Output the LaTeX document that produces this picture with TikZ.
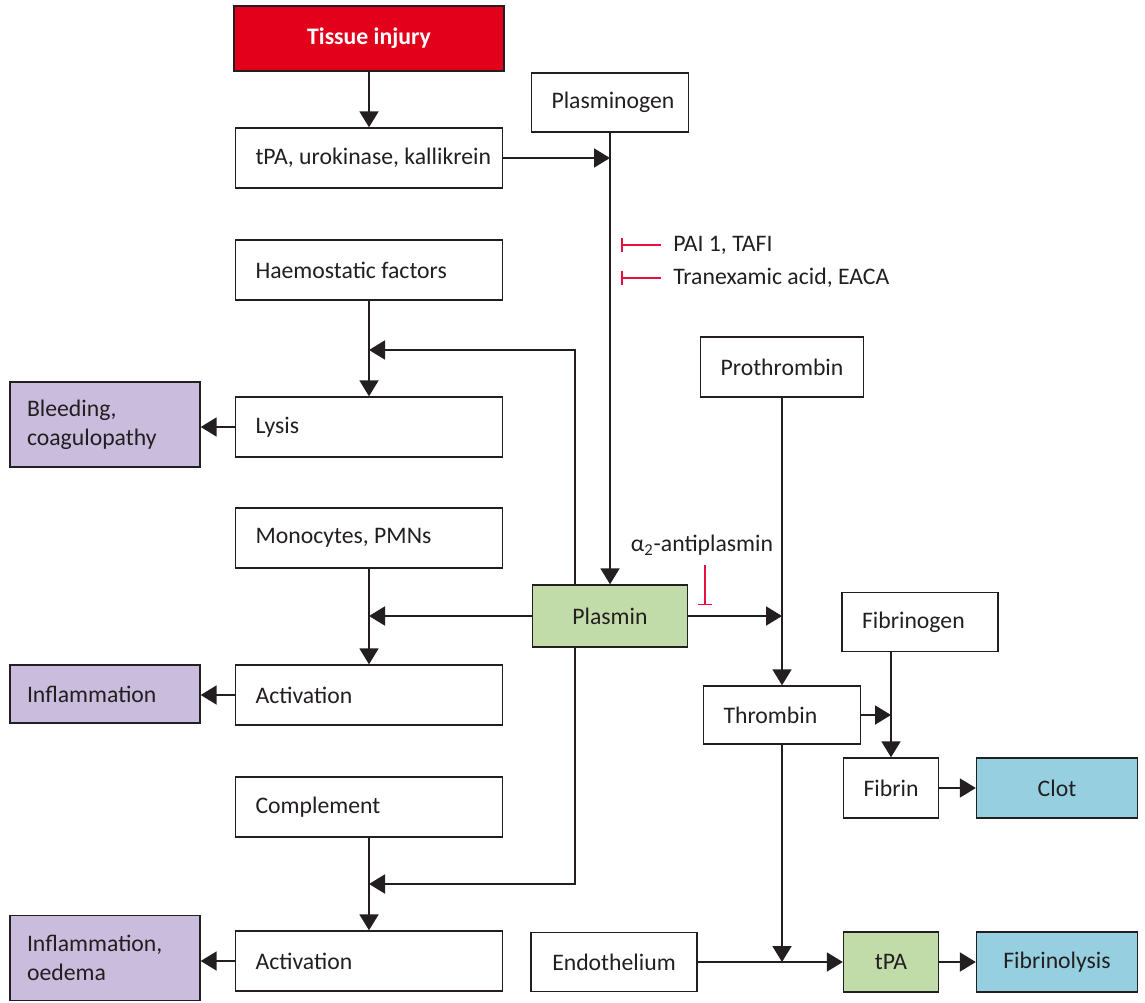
\documentclass[tikz,border=0pt]{standalone}
\usepackage{fontspec}
\setmainfont{Carlito}
\usetikzlibrary{arrows.meta}

\definecolor{inkgrey}{HTML}{231F20}
\definecolor{injuryred}{HTML}{E2001A}
\definecolor{inhibred}{HTML}{E5103E}
\definecolor{outpurple}{HTML}{C9BCDC}
\definecolor{plgreen}{HTML}{C2DCA9}
\definecolor{endblue}{HTML}{96CFE0}

\begin{document}
\begin{tikzpicture}[
        x=0.02cm, y=-0.02cm,
        every node/.style={font=\fontsize{13.5}{16.5}\selectfont, text=inkgrey},
        box/.style={rectangle, draw=inkgrey, line width=0.8pt, fill=white, minimum height=1.2cm, inner xsep=0.4cm, inner ysep=0pt},
        lefttext/.style={align=flush left, execute at begin node={\spaceskip=0pt\xspaceskip=0pt}},
        wide/.style={box, lefttext, text width=4.54cm},
        mid/.style={box, lefttext, text width=2.34cm},
        outcome/.style={box, lefttext, fill=outpurple, inner xsep=0.34cm, text width=3.12cm},
        note/.style={inner sep=0pt},
        arrow/.style={-{Triangle[length=0.32cm, width=0.38cm]}, line width=1.1pt, draw=inkgrey},
        inhib/.style={-{Bar[width=0.28cm]}, line width=0.85pt, draw=inhibred}
        ]
        \useasboundingbox (0,0) rectangle (1145,1003);

        % Left column
        \node[box, fill=injuryred, draw=inkgrey, minimum width=5.4cm, minimum height=1.3cm, font=\fontsize{13.5}{16.5}\selectfont\bfseries, text=white] (injury) at (369,38.5) {Tissue injury};
        \node[wide] (activators) at (369,158) {\mbox{tPA, urokinase, kallikrein}};
        \node[wide] (haemo) at (369,270) {Haemostatic factors};
        \node[wide] (lysis) at (369,427) {Lysis};
        \node[wide] (mono) at (369,538) {Monocytes, PMNs};
        \node[wide] (activ1) at (369,695) {Activation};
        \node[wide] (compl) at (369,807) {Complement};
        \node[wide] (activ2) at (369,961) {Activation};

        % Outcome boxes (far left)
        \node[outcome, minimum height=1.7cm] (bleed) at (105,424.5) {Bleeding,\\coagulopathy};
        \node[outcome, minimum height=1.16cm] (inflam) at (105,694) {Inflammation};
        \node[outcome, minimum height=1.7cm] (oedema) at (105,958) {Inflammation,\\oedema};

        % Plasminogen and plasmin
        \node[mid, minimum height=1.18cm] (plgen) at (610,102.5) {Plasminogen};
        \node[box, fill=plgreen, minimum width=3.1cm, minimum height=1.24cm] (plasmin) at (610,616) {Plasmin};

        % Inhibitor labels
        \node[note, anchor=west] (pai) at (673,245) {PAI 1, TAFI};
        \node[note, anchor=west] (txa) at (673,278) {Tranexamic acid, EACA};
        \node[note] (anti) at (702,545) {α\textsubscript{2}-antiplasmin};

        % Coagulation side
        \node[box, minimum width=3.14cm] (prothr) at (782,367) {Prothrombin};
        \node[mid, minimum height=1.16cm] (thromb) at (782,715) {Thrombin};
        \node[mid, text width=2.32cm, minimum height=1.18cm] (fibgen) at (920,622) {Fibrinogen};
        \node[box, minimum width=1.9cm] (fibrin) at (891,788) {Fibrin};
        \node[box, fill=endblue, minimum width=3.22cm] (clot) at (1057,788) {Clot};
        \node[box, minimum width=3.32cm, minimum height=1.18cm] (endo) at (614,962) {Endothelium};
        \node[box, fill=plgreen, minimum width=1.9cm] (tpa) at (891,962) {tPA};
        \node[box, fill=endblue, minimum width=3.22cm] (fibly) at (1057,962) {Fibrinolysis};

        % Junctions on the plasmin side line
        \coordinate (lysin) at (575,350);
        \coordinate (complin) at (575,884);

        % Connection lines
        \draw[arrow] (injury.south) -- (activators.north);
        \draw[arrow] (activators.east) -- (activators.east -| plgen.south);
        \draw[arrow] (plgen.south) -- (plasmin.north);
        \draw[arrow] (haemo.south) -- (lysis.north);
        \draw[arrow] (mono.south) -- (activ1.north);
        \draw[arrow] (compl.south) -- (activ2.north);
        \draw[arrow] (lysis.west) -- (lysis.west -| bleed.east);
        \draw[arrow] (activ1.west) -- (activ1.west -| inflam.east);
        \draw[arrow] (activ2.west) -- (activ2.west -| oedema.east);

        \draw[arrow] (plasmin.north -| lysin) -- (lysin) -- (lysin -| haemo.south);
        \draw[arrow] (plasmin.south -| complin) -- (complin) -- (complin -| compl.south);
        \draw[arrow] (plasmin.west) -- (plasmin.west -| mono.south);
        \draw[arrow] (plasmin.east) -- (plasmin.east -| prothr.south);

        \draw[arrow] (prothr.south) -- (thromb.north);
        \draw[arrow] (thromb.east) -- (thromb.east -| fibrin.north);
        \draw[arrow] (fibgen.south -| fibrin.north) -- (fibrin.north);
        \draw[arrow] (fibrin.east) -- (clot.west);
        \draw[arrow] (thromb.south) -- (thromb.south |- endo.east);
        \draw[arrow] (endo.east) -- (tpa.west);
        \draw[arrow] (tpa.east) -- (fibly.west);

        % Inhibitors
        \draw[inhib] ([xshift=-0.24cm]pai.west) -- ++(-0.8cm,0);
        \draw[inhib] ([xshift=-0.24cm]txa.west) -- ++(-0.8cm,0);
        \draw[inhib] ([xshift=0.06cm, yshift=-0.2cm]anti.south) -- ++(0,-0.8cm);

    \end{tikzpicture}
\end{document}
